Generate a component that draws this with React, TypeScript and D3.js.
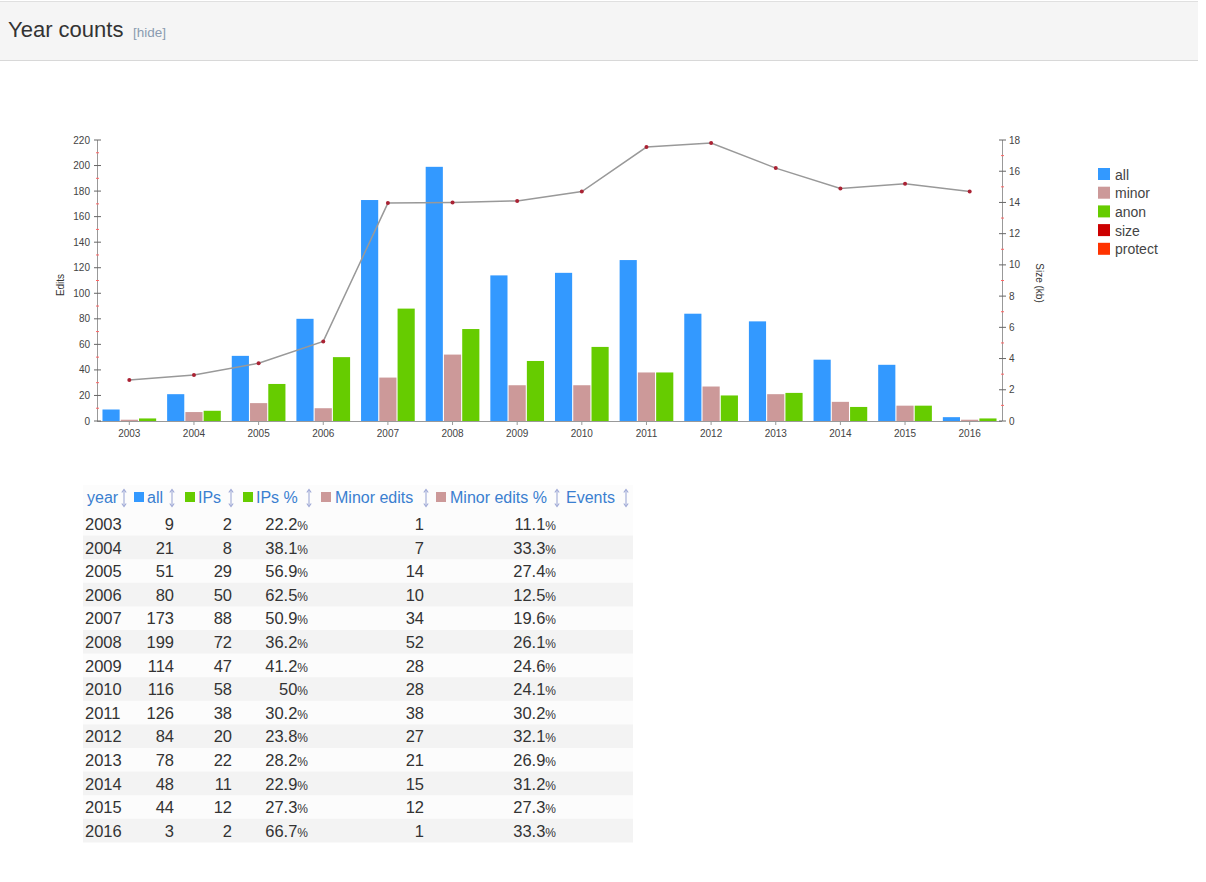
import React from "react";
import * as d3 from "d3";

const years = ["2003","2004","2005","2006","2007","2008","2009","2010","2011","2012","2013","2014","2015","2016"];
const allEdits = [9,21,51,80,173,199,114,116,126,84,78,48,44,3];
const minorEdits = [1,7,14,10,34,52,28,28,38,27,21,15,12,1];
const anonEdits = [2,8,29,50,88,72,47,58,38,20,22,11,12,2];
const ipsPct = ["22.2","38.1","56.9","62.5","50.9","36.2","41.2","50","30.2","23.8","28.2","22.9","27.3","66.7"];
const minorPct = ["11.1","33.3","27.4","12.5","19.6","26.1","24.6","24.1","30.2","32.1","26.9","31.2","27.3","33.3"];
const sizeKb = [2.63,2.95,3.7,5.1,13.96,14.0,14.1,14.7,17.55,17.8,16.2,14.9,15.2,14.7];
const leftTicks = [0,20,40,60,80,100,120,140,160,180,200,220];
const rightTicks = [0,2,4,6,8,10,12,14,16,18];
const legendItems = ["all","minor","anon","size","protect"];
const legendColors = ["#3399ff","#cc9999","#66cc00","#cc0000","#ff3300"];
const barKeys = ["all","minor","anon"];
const barColors = ["#3399ff","#cc9999","#66cc00"];
const headerLabels = ["year","all","IPs","IPs %","Minor edits","Minor edits %","Events"];
const headerSquares = [null,"#3399ff","#66cc00","#66cc00","#cc9999","#cc9999",null];

export default function App() {
  const W = 1206, H = 882;
  const x = d3.scaleBand<string>().domain(years).range([97, 1002]).padding(0);
  const sub = d3.scaleBand<string>().domain(barKeys).range([0, x.bandwidth()]).paddingInner(0.06).paddingOuter(0.3);
  const yL = d3.scaleLinear().domain([0, 220]).range([421, 140]);
  const yR = d3.scaleLinear().domain([0, 18]).range([421, 140]);
  const series = [allEdits, minorEdits, anonEdits];
  const cx = (y: string) => (x(y) as number) + x.bandwidth() / 2;
  const line = d3.line<number>().x((_, i) => cx(years[i])).y((d) => yR(d));
  const axisFont = "'Liberation Sans', Arial, sans-serif";

  const rowY0 = 524, rowStep = 23.6;
  const tableX0 = 83, tableX1 = 633;
  const headerTextX = [87, 147, 198, 256, 335, 450, 566];
  const headerSqX = [0, 134, 185, 243, 321, 436, 0];
  const headerArrowX = [124, 172, 231, 309, 426, 557, 626];

  const arrow = (ax: number, key: string) => (
    <g key={key} stroke="#9fa9d6" fill="none" strokeWidth={1.1}>
      <line x1={ax} x2={ax} y1={490} y2={506} />
      <path d={`M${ax - 2.2},${492.5} L${ax},${489.5} L${ax + 2.2},${492.5}`} />
      <path d={`M${ax - 2.2},${503.5} L${ax},${506.5} L${ax + 2.2},${503.5}`} />
    </g>
  );

  return (
    <svg width={W} height={H} style={{ position: "absolute", left: 0, top: 0, background: "#fff" }} fontFamily={axisFont}>
      {/* header band */}
      <rect x={0} y={1} width={1198} height={59} fill="#f5f5f5" />
      <line x1={0} x2={1198} y1={1.5} y2={1.5} stroke="#e0e0e0" />
      <line x1={0} x2={1198} y1={60.5} y2={60.5} stroke="#d8d8d8" />
      <text x={8} y={37} fontSize={22} fill="#333">Year counts</text>
      <text x={133} y={37} fontSize={13.5} fill="#8a9bb0">[hide]</text>

      {/* bars */}
      {years.map((yr, i) => (
        <g key={yr}>
          {series.map((s, k) => (
            <rect key={k} x={(x(yr) as number) + (sub(barKeys[k]) as number)} y={yL(s[i])}
              width={sub.bandwidth()} height={421 - yL(s[i])} fill={barColors[k]} />
          ))}
        </g>
      ))}

      {/* x axis */}
      <line x1={97} x2={1002} y1={421.5} y2={421.5} stroke="#999" />
      {years.map((yr) => (
        <g key={yr}>
          <line x1={cx(yr)} x2={cx(yr)} y1={421} y2={425} stroke="#999" />
          <text x={cx(yr)} y={437} fontSize={10} textAnchor="middle" fill="#444">{yr}</text>
        </g>
      ))}

      {/* left axis */}
      <line x1={97.5} x2={97.5} y1={140} y2={421} stroke="#999" />
      {leftTicks.map((t) => (
        <g key={t}>
          <line x1={94} x2={101} y1={yL(t)} y2={yL(t)} stroke="#666" />
          <text x={90} y={yL(t) + 3.5} fontSize={10} textAnchor="end" fill="#444">{t}</text>
        </g>
      ))}
      {leftTicks.slice(0, -1).map((t) => (
        <line key={"m" + t} x1={96} x2={99} y1={yL(t + 10)} y2={yL(t + 10)} stroke="#ff6666" />
      ))}
      <text transform={`translate(64,285) rotate(-90)`} fontSize={10} textAnchor="middle" fill="#333">Edits</text>

      {/* right axis */}
      <line x1={1002.5} x2={1002.5} y1={140} y2={421} stroke="#999" />
      {rightTicks.map((t) => (
        <g key={t}>
          <line x1={999} x2={1006} y1={yR(t)} y2={yR(t)} stroke="#666" />
          <text x={1009} y={yR(t) + 3.5} fontSize={10} textAnchor="start" fill="#444">{t}</text>
        </g>
      ))}
      {rightTicks.slice(0, -1).map((t) => (
        <line key={"m" + t} x1={1001} x2={1004} y1={yR(t + 1)} y2={yR(t + 1)} stroke="#ff6666" />
      ))}
      <text transform={`translate(1036,283) rotate(90)`} fontSize={10} textAnchor="middle" fill="#333">Size (kb)</text>

      {/* line */}
      <path d={line(sizeKb) || ""} fill="none" stroke="#999" strokeWidth={1.5} />
      {sizeKb.map((v, i) => (
        <circle key={i} cx={cx(years[i])} cy={yR(v)} r={2} fill="#aa2233" />
      ))}

      {/* legend */}
      {legendItems.map((l, i) => (
        <g key={l}>
          <rect x={1098} y={168 + i * 18.7} width={12} height={12} fill={legendColors[i]} />
          <text x={1115} y={179.5 + i * 18.7} fontSize={14} fill="#444">{l}</text>
        </g>
      ))}

      {/* table */}
      <rect x={tableX0} y={485} width={tableX1 - tableX0} height={rowY0 + 13 * rowStep + 11.6 - 485} fill="#fcfcfc" />
      {years.map((yr, i) => (i % 2 === 1 ? (
        <rect key={"bg" + yr} x={tableX0} y={rowY0 + i * rowStep - 12} width={tableX1 - tableX0} height={rowStep} fill="#f3f3f3" />
      ) : null))}
      {headerLabels.map((t, i) => {
        const sq = headerSquares[i];
        return (
          <g key={t}>
            {sq ? <rect x={headerSqX[i]} y={492} width={10} height={10} fill={sq} /> : null}
            <text x={headerTextX[i]} y={503} fontSize={16} fill="#3a7fd0">{t}</text>
            {arrow(headerArrowX[i], "a" + i)}
          </g>
        );
      })}
      {years.map((yr, i) => {
        const yy = rowY0 + i * rowStep + 6;
        return (
          <g key={"row" + yr} fontSize={16.5} fill="#333">
            <text x={85} y={yy}>{yr}</text>
            <text x={174} y={yy} textAnchor="end">{allEdits[i]}</text>
            <text x={232} y={yy} textAnchor="end">{anonEdits[i]}</text>
            <text x={308} y={yy} textAnchor="end">{ipsPct[i]}<tspan fontSize={12}>%</tspan></text>
            <text x={424} y={yy} textAnchor="end">{minorEdits[i]}</text>
            <text x={556} y={yy} textAnchor="end">{minorPct[i]}<tspan fontSize={12}>%</tspan></text>
          </g>
        );
      })}
    </svg>
  );
}
